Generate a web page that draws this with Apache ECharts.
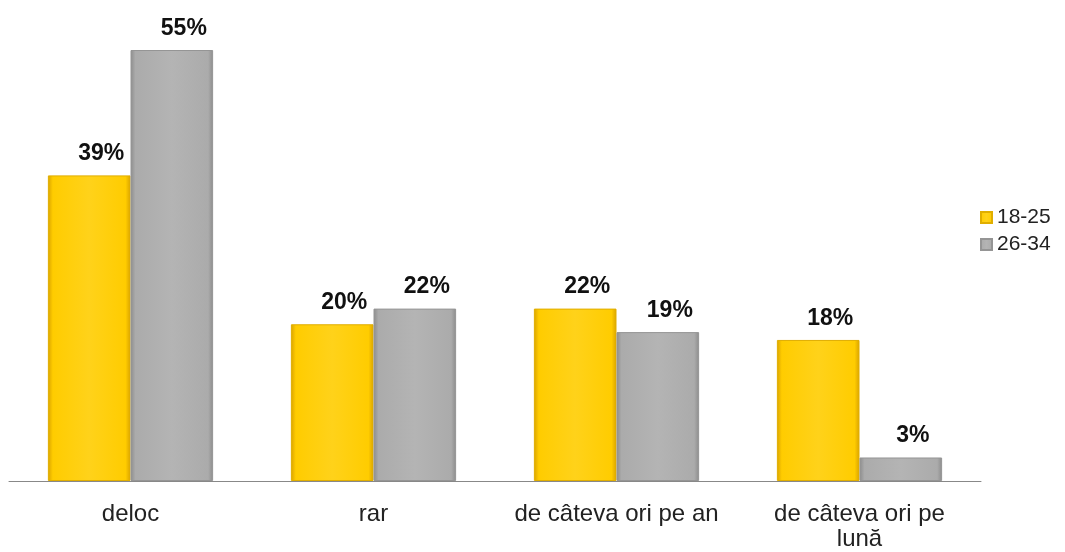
<!DOCTYPE html>
<html lang="ro">
<head>
    <meta charset="UTF-8">
    <title>Frecvență pe grupe de vârstă</title>
    <script src="https://cdn.jsdelivr.net/npm/echarts@6/dist/echarts.min.js"></script>
    <style>
        html, body { margin: 0; padding: 0; background: #fff; }
    </style>
</head>
<body>
    <div id="main" style="width: 1065px; height: 552px;"></div>

    <script>
        // date
        var categories = ['deloc', 'rar', 'de câteva ori pe an', 'de câteva ori pe\nlună'];
        var seriesNames = ['18-25', '26-34'];
        var values1825 = [39, 20, 22, 18];
        var values2634 = [55, 22, 19, 3];

        function bevel(edge, main, light) {
            return new echarts.graphic.LinearGradient(0, 0, 1, 0, [
                { offset: 0, color: edge },
                { offset: 0.06, color: main },
                { offset: 0.5, color: light },
                { offset: 0.94, color: main },
                { offset: 1, color: edge }
            ]);
        }

        var fontName = 'Liberation Sans, Arial, sans-serif';

        var labelStyle = {
            show: true,
            position: 'top',
            distance: 10,
            offset: [12, 0],
            formatter: '{c}%',
            fontFamily: fontName,
            fontSize: 23,
            fontWeight: 'bold',
            color: '#111'
        };

        var chart = echarts.init(document.getElementById('main'));
        var option = {
            animation: false,
            grid: { left: 9, right: 84, top: 50, bottom: 71, containLabel: false, outerBoundsMode: 'none' },
            legend: {
                orient: 'vertical',
                left: 975,
                top: 202,
                icon: 'rect',
                itemWidth: 11,
                itemHeight: 11,
                itemGap: 6,
                textStyle: { fontFamily: fontName, fontSize: 21, color: '#222' },
                data: seriesNames
            },
            xAxis: {
                type: 'category',
                data: categories,
                axisLine: { lineStyle: { color: '#888', width: 1 } },
                axisTick: { show: false },
                axisLabel: {
                    margin: 21,
                    fontFamily: fontName,
                    fontSize: 24,
                    lineHeight: 25,
                    color: '#222',
                    interval: 0
                }
            },
            yAxis: {
                type: 'value',
                min: 0,
                max: 55,
                show: false,
                splitLine: { show: false }
            },
            series: [
                {
                    name: seriesNames[0],
                    type: 'bar',
                    data: values1825,
                    barGap: '0%',
                    barCategoryGap: '32%',
                    itemStyle: {
                        color: bevel('#D9A300', '#FFCC00', '#FFD21A'),
                        borderColor: '#E0AE00',
                        borderWidth: 1
                    },
                    label: labelStyle
                },
                {
                    name: seriesNames[1],
                    type: 'bar',
                    data: values2634,
                    itemStyle: {
                        color: bevel('#8C8C8C', '#ABABAB', '#B4B4B4'),
                        borderColor: '#959595',
                        borderWidth: 1
                    },
                    label: labelStyle
                }
            ]
        };
        chart.setOption(option);
    </script>
</body>
</html>
